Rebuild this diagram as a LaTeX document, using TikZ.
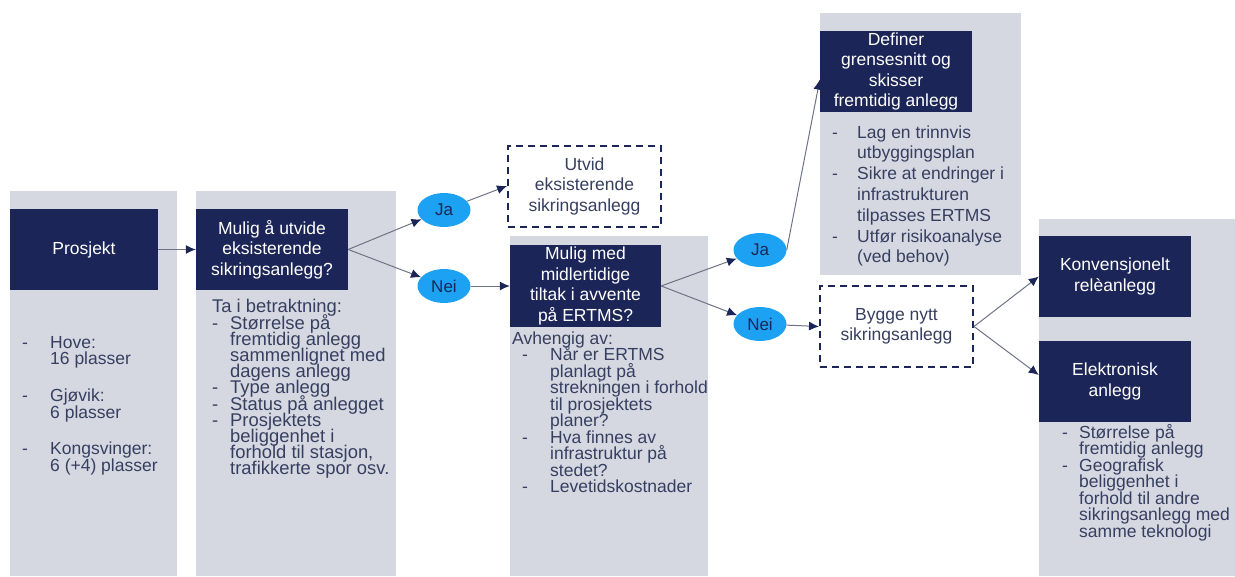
\documentclass[tikz,border=0pt]{standalone}
\usepackage{fontspec}
\setmainfont{Liberation Sans}
\usetikzlibrary{arrows.meta,shapes.geometric,calc}
\definecolor{navy}{HTML}{1C2557}
\definecolor{colgray}{HTML}{D5D8E1}
\definecolor{ellblue}{HTML}{1DA1F2}
\definecolor{bodytxt}{HTML}{363F60}
\definecolor{linecol}{HTML}{6E7386}
\newcommand{\dl}[2]{\makebox[#1][l]{-}#2}
\newcommand{\cl}[2]{\hspace*{#1}#2}
\newcommand{\bodyfont}{\fontsize{17.5}{16.5}\selectfont\lineskiplimit=-50pt\relax}
\newcommand{\colfont}{\fontsize{18.4}{16.2}\selectfont\lineskiplimit=-50pt\relax}
\newcommand{\widefont}{\fontsize{17.5}{20.8}\selectfont\lineskiplimit=-50pt\relax}
\newcommand{\boxfont}{\fontsize{17.5}{20.5}\selectfont\lineskiplimit=-50pt\relax}
\begin{document}
\begin{tikzpicture}[x=1pt,y=-1pt,
  darkbox/.style={rectangle, fill=navy, text=white, align=center, minimum width=152pt, minimum height=81pt, inner sep=0pt, font=\boxfont},
  dashbox/.style={rectangle, draw=navy, line width=2pt, dash pattern=on 7pt off 5pt, text=bodytxt, align=center, minimum width=153pt, minimum height=81pt, inner sep=0pt, font=\boxfont},
  oval/.style={ellipse, fill=ellblue, text=navy, minimum width=53pt, minimum height=34pt, inner sep=0pt, font=\fontsize{17}{20}\selectfont},
  txt/.style={anchor=north west, align=left, inner sep=0pt, text=bodytxt, font=\bodyfont},
  conn/.style={draw=linecol, line width=1pt, -{Latex[length=10pt,width=9pt,color=navy]}}]
\useasboundingbox (0,0) rectangle (1235,576);
% grey columns
\fill[colgray] (10,191) rectangle (177,576);
\fill[colgray] (196,191) rectangle (396,576);
\fill[colgray] (510,236) rectangle (708,576);
\fill[colgray] (820,13) rectangle (1021,275);
\fill[colgray] (1039,219) rectangle (1235,576);
% dark boxes
\node[darkbox, minimum width=148pt] (prosjekt) at (84,249.5) {Prosjekt};
\node[darkbox] (utvide) at (272,249.5) {Mulig å utvide\\eksisterende\\sikringsanlegg?};
\node[darkbox, minimum width=151pt, minimum height=82pt] (midl) at (585.5,286) {Mulig med\\midlertidige\\tiltak i avvente\\på ERTMS?};
\node[darkbox] (definer) at (896,71.5) {Definer\\grensesnitt og\\skisser\\fremtidig anlegg};
\node[darkbox] (konv) at (1115,276.5) {Konvensjonelt\\relèanlegg};
\node[darkbox] (elek) at (1115,381.5) {Elektronisk\\anlegg};
% dashed boxes
\node[dashbox] (utvid) at (584.5,186) {Utvid\\eksisterende\\sikringsanlegg};
\node[dashbox] (bygge) at (896.5,326.5) {Bygge nytt\\sikringsanlegg};
% ovals
\node[oval] (ja1) at (444,210) {Ja};
\node[oval] (nei1) at (444,286) {Nei};
\node[oval] (ja2) at (760,250) {Ja};
\node[oval] (nei2) at (760,324) {Nei};
% texts
\node[txt] (t1) at (22,335.8) {\dl{28pt}{Hove:}\\\cl{28pt}{16 plasser}\\[20.5pt]\dl{28pt}{Gjøvik:}\\\cl{28pt}{6 plasser}\\[20pt]\dl{28pt}{Kongsvinger:}\\\cl{28pt}{6 (+4) plasser}};
\node[txt, font=\colfont] (t2) at (212,299.3) {Ta i betraktning:\\\dl{18pt}{Størrelse på}\\\cl{18pt}{fremtidig anlegg}\\\cl{18pt}{sammenlignet med}\\\cl{18pt}{dagens anlegg}\\\dl{18pt}{Type anlegg}\\\dl{18pt}{Status på anlegget}\\\dl{18pt}{Prosjektets}\\\cl{18pt}{beliggenhet i}\\\cl{18pt}{forhold til stasjon,}\\\cl{18pt}{trafikkerte spor osv.}};
\node[txt] (t3) at (512,331.3) {Avhengig av:\\\hspace*{10pt}\dl{28pt}{Når er ERTMS}\\\cl{38pt}{planlagt på}\\\cl{38pt}{strekningen i forhold}\\\cl{38pt}{til prosjektets}\\\cl{38pt}{planer?}\\\hspace*{10pt}\dl{28pt}{Hva finnes av}\\\cl{38pt}{infrastruktur på}\\\cl{38pt}{stedet?}\\\hspace*{10pt}\dl{28pt}{Levetidskostnader}};
\node[txt, font=\widefont] (t4) at (832,125.3) {\dl{25pt}{Lag en trinnvis}\\\cl{25pt}{utbyggingsplan}\\\dl{25pt}{Sikre at endringer i}\\\cl{25pt}{infrastrukturen}\\\cl{25pt}{tilpasses ERTMS}\\\dl{25pt}{Utfør risikoanalyse}\\\cl{25pt}{(ved behov)}};
\node[txt] (t5) at (1062,423.8) {\dl{17pt}{Størrelse på}\\\cl{17pt}{fremtidig anlegg}\\\dl{17pt}{Geografisk}\\\cl{17pt}{beliggenhet i}\\\cl{17pt}{forhold til andre}\\\cl{17pt}{sikringsanlegg med}\\\cl{17pt}{samme teknologi}};
% helper coordinates
\coordinate (defin) at ($(definer.south west)!0.4!(definer.north west)$);
\coordinate (elekin) at ($(elek.north west)!0.42!(elek.south west)$);
% connectors
\draw[conn] (prosjekt.east) -- (utvide.west);
\draw[conn] (utvide.east) -- (ja1);
\draw[conn] (utvide.east) -- (nei1);
\draw[conn] (ja1) -- (utvid.west);
\draw[conn] (nei1) -- (midl.west);
\draw[conn] (midl.east) -- (ja2);
\draw[conn] (midl.east) -- (nei2);
\draw[conn] (ja2.east) -- (defin);
\draw[conn] (nei2) -- (bygge.west);
\draw[conn] (bygge.east) -- (konv.west);
\draw[conn] (bygge.east) -- (elekin);
\end{tikzpicture}
\end{document}
